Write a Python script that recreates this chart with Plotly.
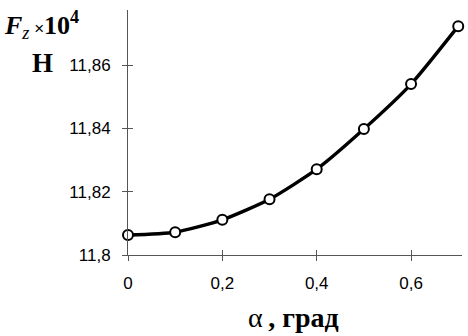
import plotly.graph_objects as go

# Angle of attack, degrees
alpha = [0.0, 0.1, 0.2, 0.3, 0.4, 0.5, 0.6, 0.7]
# Vertical force Fz, x10^4 N
fz = [11.8063, 11.8072, 11.8111, 11.8176, 11.8271, 11.8398, 11.8540, 11.8723]

x_tickvals = [0.0, 0.2, 0.4, 0.6]
x_ticktext = ["0", "0,2", "0,4", "0,6"]
y_tickvals = [11.80, 11.82, 11.84, 11.86]
y_ticktext = ["11,8", "11,82", "11,84", "11,86"]

x_range = [0.0, 0.708]
y_range = [11.8, 11.8774]

W, H = 468, 336
ML, MR, MT, MB = 128, 6, 10, 81
PW, PH = W - ML - MR, H - MT - MB


def px_to_paper(px, py):
    return (px - ML) / PW, (H - MB - py) / PH


fig = go.Figure()
fig.add_trace(go.Scatter(
    x=alpha, y=fz, mode="lines+markers",
    line=dict(color="black", width=3.4, shape="spline", smoothing=0.6),
    marker=dict(symbol="circle", size=10, color="white",
                line=dict(color="black", width=2)),
    cliponaxis=False, showlegend=False, hoverinfo="skip",
))
# Empty trace carrying the inward half of the cross-shaped ticks
fig.add_trace(go.Scatter(x=[], y=[], xaxis="x2", yaxis="y2", showlegend=False))

tick_font = dict(family="Liberation Sans, Arial, sans-serif", size=17, color="black")
axis_common = dict(showgrid=False, zeroline=False, showline=True, linecolor="#555555",
                   linewidth=1, ticks="outside", ticklen=5, tickwidth=1,
                   tickcolor="#555555", tickfont=tick_font)

fig.update_layout(
    width=W, height=H,
    margin=dict(l=ML, r=MR, t=MT, b=MB, pad=0),
    paper_bgcolor="white", plot_bgcolor="white",
    xaxis=dict(range=x_range, tickvals=x_tickvals, ticktext=x_ticktext,
               ticklabelstandoff=8, **axis_common),
    yaxis=dict(range=y_range, tickvals=y_tickvals, ticktext=y_ticktext,
               ticklabelstandoff=8, **axis_common),
    xaxis2=dict(range=x_range, overlaying="x", tickvals=x_tickvals,
                showticklabels=False, ticks="inside", ticklen=5, tickwidth=1,
                tickcolor="#555555", showgrid=False, zeroline=False, showline=False),
    yaxis2=dict(range=y_range, overlaying="y", tickvals=y_tickvals,
                showticklabels=False, ticks="inside", ticklen=5, tickwidth=1,
                tickcolor="#555555", showgrid=False, zeroline=False, showline=False),
)

serif = "Liberation Serif, Times New Roman, serif"
tx, ty = px_to_paper(2, 5)
fig.add_annotation(
    xref="paper", yref="paper", x=tx, y=ty, xanchor="left", yanchor="top",
    showarrow=False, align="left",
    text=("<b><i>F</i></b><sub><i>z</i></sub>"
          "<span style='font-family:Liberation Sans;font-size:17px'> ×</span>"
          "<b>10</b><sup><b>4</b></sup>"),
    font=dict(family=serif, size=26, color="black"),
)
hx, hy = px_to_paper(42, 63)
fig.add_annotation(
    xref="paper", yref="paper", x=hx, y=hy, xanchor="center", yanchor="middle",
    showarrow=False, text="<b>Н</b>",
    font=dict(family=serif, size=27, color="black"),
)
ax_, ay_ = px_to_paper(293, 317)
fig.add_annotation(
    xref="paper", yref="paper", x=ax_, y=ay_, xanchor="center", yanchor="middle",
    showarrow=False, text="α\u2009<b>, град</b>",
    font=dict(family=serif, size=28, color="black"),
)

fig.write_html("out.html")
